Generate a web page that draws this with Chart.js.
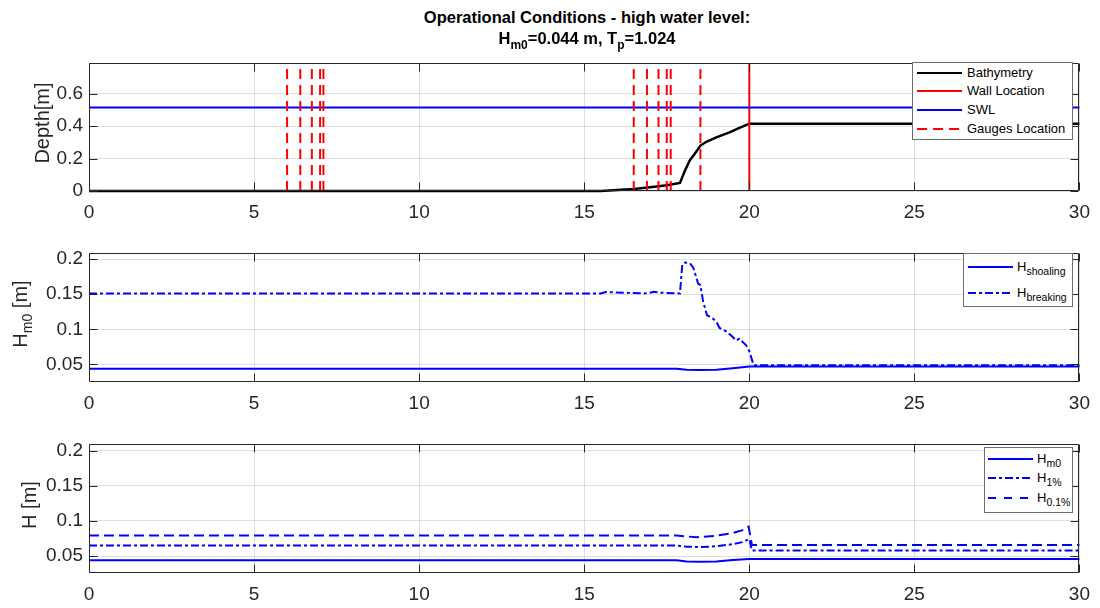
<!DOCTYPE html>
<html>
<head>
<meta charset="utf-8">
<script src="https://cdn.jsdelivr.net/npm/chart.js@4.4.1/dist/chart.umd.min.js"></script>
<style>
  body { margin: 0; background: #fff; font-family: 'Liberation Sans', Arial, sans-serif; }
  #wrap { position: relative; width: 1100px; height: 608px; overflow: hidden; background: #fff; }
  canvas { position: absolute; left: 0; }
  .ttl { position: absolute; left: 587px; transform: translateX(-50%); font-weight: bold; font-size: 16.5px; line-height: 20px; white-space: nowrap; color: #000; }
  .ttl .sub { position: relative; top: 5px; font-size: 12px; }
  .ylab { position: absolute; transform: translate(-50%, -50%) rotate(-90deg); font-size: 20px; line-height: 24px; color: #262626; white-space: nowrap; }
  .ylab .sub { position: relative; top: 5px; font-size: 14px; }
  .legend { position: absolute; background: #fff; border: 1px solid #6e6e6e; box-sizing: border-box; font-size: 13px; color: #000; }
  .legend .row { position: absolute; left: 0; height: 18px; line-height: 18px; white-space: nowrap; }
  .legend svg { position: absolute; top: 0; }
  .legend .lab { position: absolute; top: 0; }
  .legend .sub { position: relative; top: 4px; font-size: 10.5px; }
</style>
</head>
<body>
<div id="wrap">
  <canvas id="c1" width="1100" height="185" style="top:46px"></canvas>
  <canvas id="c2" width="1100" height="186" style="top:236px"></canvas>
  <canvas id="c3" width="1100" height="186" style="top:427px"></canvas>

  <div class="ttl" style="top:7px">Operational Conditions - high water level:</div>
  <div class="ttl" style="top:28px">H<span class="sub">m0</span>=0.044 m, T<span class="sub">p</span>=1.024</div>

  <div class="ylab" style="left:42px;top:123px">Depth[m]</div>
  <div class="ylab" style="left:21px;top:314px">H<span class="sub">m0</span> [m]</div>
  <div class="ylab" style="left:29px;top:505px">H [m]</div>

  <div id="leg1" class="legend" style="left:912px;top:62px;width:161px;height:78px"></div>
  <div id="leg2" class="legend" style="left:963px;top:253px;width:110px;height:54px"></div>
  <div id="leg3" class="legend" style="left:984px;top:447px;width:89px;height:66px"></div>
</div>

<script>
// ---- data ----
const xTicks = [0, 5, 10, 15, 20, 25, 30];

// panel 1: profile
const bathX = [0, 15.5, 16.5, 17.0, 17.5, 17.9, 18.06, 18.2, 18.35, 18.52, 18.7, 19.0, 19.4, 19.65, 20.0, 30];
const bathY = [0, 0, 0.012, 0.023, 0.035, 0.05, 0.13, 0.19, 0.229, 0.28, 0.303, 0.33, 0.361, 0.384, 0.415, 0.415];
const swlLevel = 0.515;
const wallX = 20;
const gaugeX = [6.0, 6.4, 6.75, 7.0, 7.1, 16.5, 16.9, 17.25, 17.5, 17.62, 18.52];
const depthTicks = [0, 0.2, 0.4, 0.6];

// panel 2: Hm0 shoaling / breaking
const shoalX = [0, 17.8, 18.1, 18.5, 19.0, 19.5, 20.0, 20.1, 30];
const shoalY = [0.044, 0.044, 0.0425, 0.042, 0.0425, 0.0445, 0.047, 0.047, 0.047];
const breakX = [0, 15.5, 15.65, 16.8, 17.0, 17.1, 17.3, 17.9, 17.97, 18.05, 18.2, 18.3, 18.45, 18.52, 18.6, 18.72, 18.85, 19.0, 19.1, 19.3, 19.5, 19.6, 19.7, 19.9, 20.0, 20.13, 30];
const breakY = [0.151, 0.151, 0.153, 0.151, 0.152, 0.1535, 0.152, 0.151, 0.192, 0.195, 0.194, 0.188, 0.165, 0.163, 0.14, 0.12, 0.117, 0.111, 0.102, 0.097, 0.089, 0.084, 0.0865, 0.0775, 0.069, 0.049, 0.049];

// panel 3: Hm0 / H1% / H0.1%
const hm0X = [0, 17.8, 18.1, 18.5, 19.0, 19.5, 20.0, 20.1, 30];
const hm0Y = [0.044, 0.044, 0.0425, 0.042, 0.0425, 0.0445, 0.046, 0.046, 0.046];
const h1X = [0, 17.8, 18.1, 18.5, 19.0, 19.5, 19.8, 20.0, 20.08, 30];
const h1Y = [0.065, 0.065, 0.0635, 0.0628, 0.064, 0.067, 0.07, 0.0745, 0.058, 0.058];
const h01X = [0, 17.8, 18.1, 18.4, 19.0, 19.5, 19.8, 19.98, 20.08, 30];
const h01Y = [0.0795, 0.0795, 0.078, 0.077, 0.079, 0.083, 0.087, 0.092, 0.066, 0.066];
const hTicks = [0.05, 0.1, 0.15, 0.2];

// ---- helpers ----
Chart.defaults.font.family = "'Liberation Sans', Arial, sans-serif";
Chart.defaults.color = '#262626';
Chart.defaults.animation = false;

const xy = (xs, ys) => xs.map((x, i) => ({ x: x, y: ys[i] }));
const DASH = [10, 6];
const DASHDOT = [8, 3, 3, 3];

function line(data, color, width, dash, order) {
  return {
    data: data, borderColor: color, borderWidth: width, borderDash: dash || [],
    pointRadius: 0, tension: 0, fill: false, order: order || 0, clip: false
  };
}

// MATLAB style box with inward ticks
const boxPlugin = {
  id: 'box',
  afterDraw(chart) {
    const { ctx, chartArea: a, scales } = chart;
    const L = Math.round(a.left) + 0.5, R = Math.round(a.right) - 0.5;
    const T = Math.round(a.top) + 0.5, B = Math.round(a.bottom) - 0.5;
    ctx.save();
    ctx.strokeStyle = '#262626';
    ctx.lineWidth = 1;
    ctx.beginPath();
    ctx.rect(L, T, R - L, B - T);
    scales.x.ticks.forEach(t => {
      const px = Math.round(scales.x.getPixelForValue(t.value)) + 0.5;
      ctx.moveTo(px, B); ctx.lineTo(px, B - 8);
      ctx.moveTo(px, T); ctx.lineTo(px, T + 8);
    });
    scales.y.ticks.forEach(t => {
      const py = Math.round(scales.y.getPixelForValue(t.value)) + 0.5;
      ctx.moveTo(L, py); ctx.lineTo(L + 8, py);
      ctx.moveTo(R, py); ctx.lineTo(R - 8, py);
    });
    ctx.stroke();
    ctx.restore();
  }
};

function makeChart(id, datasets, yMin, yMax, yTicks) {
  return new Chart(document.getElementById(id), {
    type: 'line',
    data: { datasets: datasets },
    options: {
      responsive: false,
      layout: { padding: { top: 10, right: 15, left: 0, bottom: 0 } },
      plugins: { legend: { display: false }, tooltip: { enabled: false } },
      scales: {
        x: {
          type: 'linear', min: 0, max: 30,
          afterBuildTicks: s => { s.ticks = xTicks.map(v => ({ value: v })); },
          afterFit: s => { s.height = 40; },
          grid: { color: 'rgba(38,38,38,0.15)', drawTicks: false },
          border: { display: false },
          ticks: { font: { size: 19 }, padding: 10, maxRotation: 0, callback: v => String(v) }
        },
        y: {
          type: 'linear', min: yMin, max: yMax,
          afterBuildTicks: s => { s.ticks = yTicks.map(v => ({ value: v })); },
          afterFit: s => { s.width = 89; },
          grid: { color: 'rgba(38,38,38,0.15)', drawTicks: false },
          border: { display: false },
          ticks: { font: { size: 19 }, padding: 6, callback: v => String(v) }
        }
      }
    },
    plugins: [boxPlugin]
  });
}

// ---- panel 1 ----
const yMax1 = 0.786;
const ds1 = [
  line(xy(bathX, bathY), '#000000', 2.5, null, 3),
  line(xy([wallX, wallX], [0, yMax1]), '#ff0000', 2, null, 2),
  line(xy([0, 30], [swlLevel, swlLevel]), '#0000ff', 2, null, 1)
];
gaugeX.forEach(g => ds1.push(line(xy([g, g], [0, yMax1]), '#ff0000', 2, DASH, 0)));
makeChart('c1', ds1, 0, yMax1, depthTicks);

// ---- panel 2 ----
makeChart('c2', [
  line(xy(shoalX, shoalY), '#0000ff', 2, null, 1),
  line(xy(breakX, breakY), '#0000ff', 2, DASHDOT, 0)
], 0.025, 0.208, hTicks);

// ---- panel 3 ----
makeChart('c3', [
  line(xy(hm0X, hm0Y), '#0000ff', 2, null, 2),
  line(xy(h1X, h1Y), '#0000ff', 2, DASHDOT, 1),
  line(xy(h01X, h01Y), '#0000ff', 2, [10, 5], 0)
], 0.026, 0.209, hTicks);

// ---- legends (html, because of the subscripts) ----
function legend(id, rows, sampleLeft, textLeft, centers) {
  const box = document.getElementById(id);
  rows.forEach((r, i) => {
    const row = document.createElement('div');
    row.className = 'row';
    row.style.top = (centers[i] - 9) + 'px';
    row.innerHTML =
      '<svg width="45" height="18" style="left:' + sampleLeft + 'px">' +
      '<line x1="0" y1="9" x2="45" y2="9" stroke="' + r.color + '" stroke-width="2"' +
      (r.dash ? ' stroke-dasharray="' + r.dash.join(',') + '"' : '') + '/></svg>' +
      '<span class="lab" style="left:' + textLeft + 'px">' + r.label + '</span>';
    box.appendChild(row);
  });
}

legend('leg1', [
  { label: 'Bathymetry', color: '#000000' },
  { label: 'Wall Location', color: '#ff0000' },
  { label: 'SWL', color: '#0000ff' },
  { label: 'Gauges Location', color: '#ff0000', dash: DASH }
], 4, 54, [10, 28, 47, 66]);

legend('leg2', [
  { label: 'H<span class="sub">shoaling</span>', color: '#0000ff' },
  { label: 'H<span class="sub">breaking</span>', color: '#0000ff', dash: DASHDOT }
], 4, 53, [13, 39]);

legend('leg3', [
  { label: 'H<span class="sub">m0</span>', color: '#0000ff' },
  { label: 'H<span class="sub">1%</span>', color: '#0000ff', dash: DASHDOT },
  { label: 'H<span class="sub">0.1%</span>', color: '#0000ff', dash: [8, 8] }
], 3, 52, [11, 30, 50]);
</script>
</body>
</html>
